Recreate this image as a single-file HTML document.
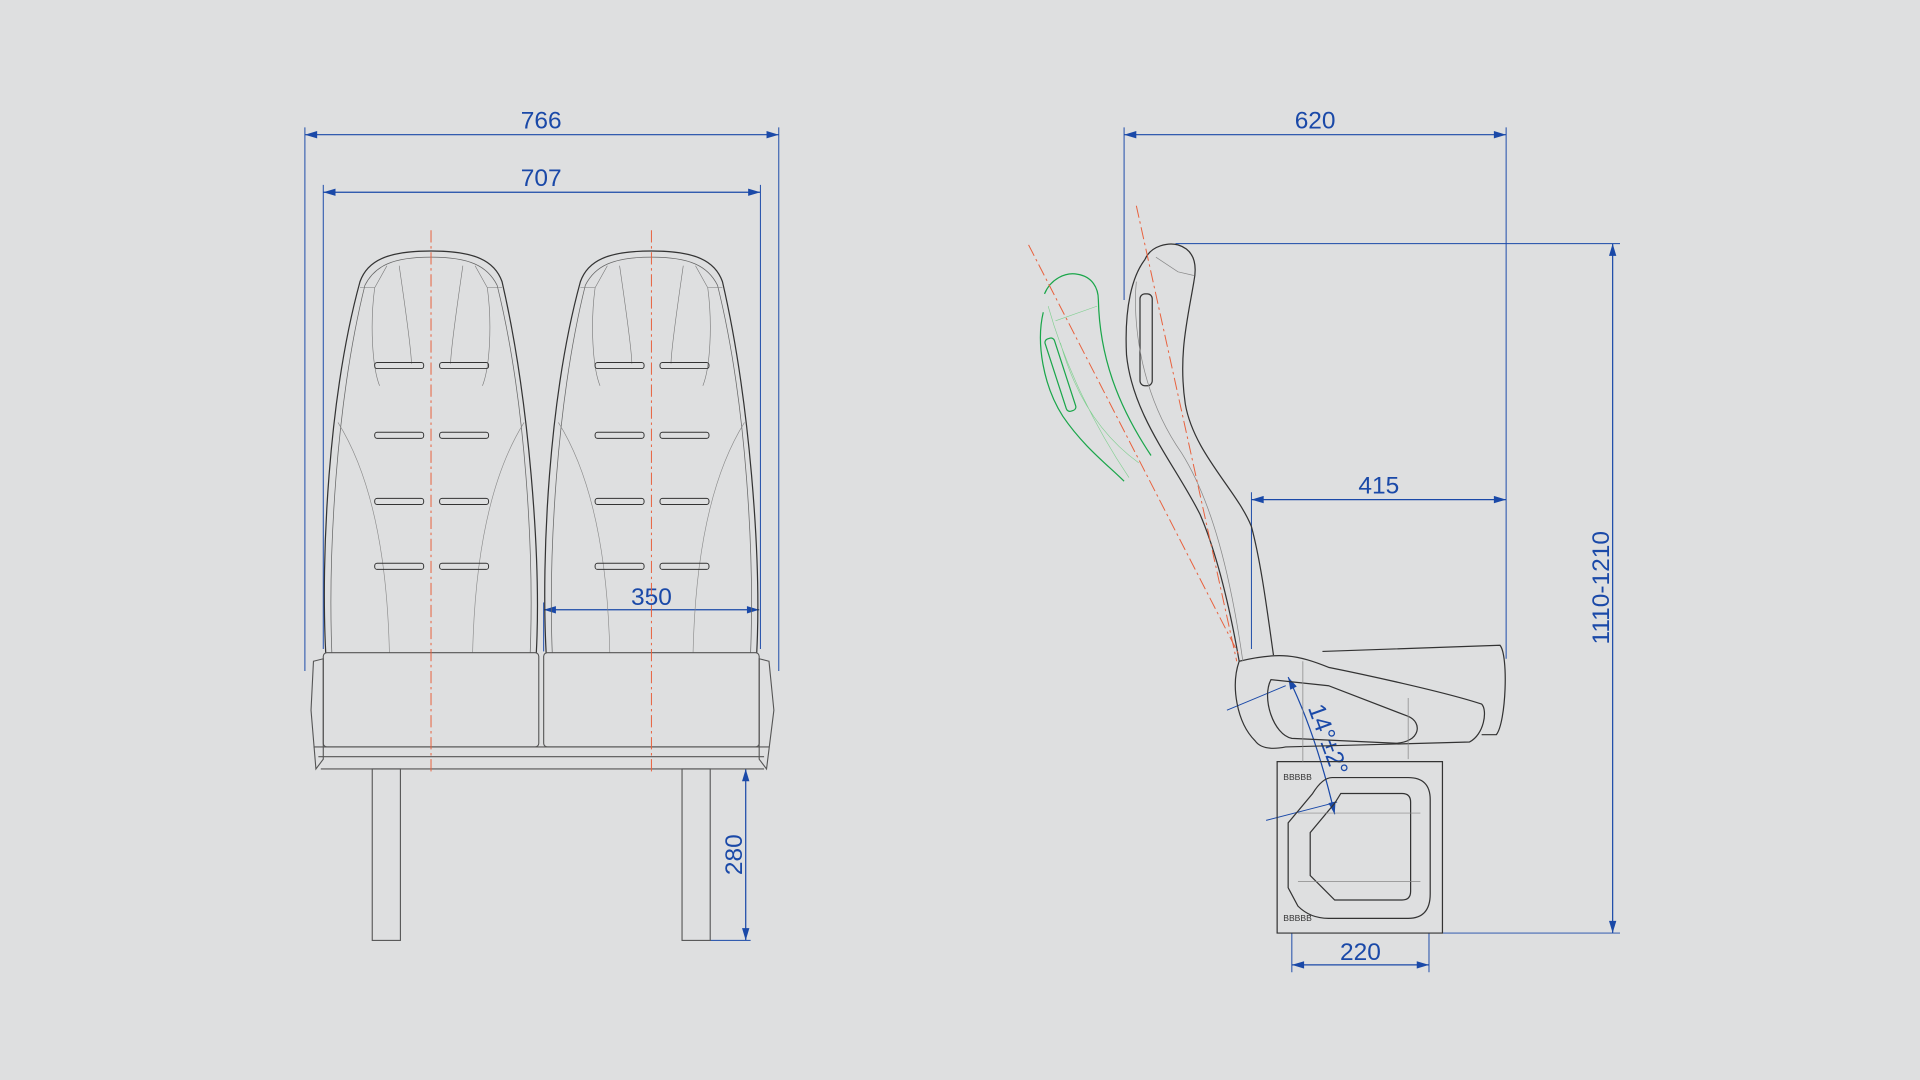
<!DOCTYPE html>
<html><head><meta charset="utf-8"><style>
html,body{margin:0;padding:0;background:#dedfe0;}
svg{display:block}
text{font-family:"Liberation Sans",sans-serif;fill:#1a49a8;font-size:20px}
</style></head><body>
<svg width="1920" height="1080" viewBox="0 0 1568 882" xmlns="http://www.w3.org/2000/svg">
<defs>
<marker id="a" viewBox="0 0 10 6" refX="10" refY="3" markerWidth="14" markerHeight="6" orient="auto-start-reverse" markerUnits="userSpaceOnUse"><path d="M0,0 L10,3 L0,6 Z" fill="#1a49a8"/></marker>
<g id="back">
<path d="M0,328 C-4,250 2,120 28,25 C34,8 50,0 86,0 C122,0 138,8 144,25 C166,120 176,250 172,328" fill="none" stroke="#333" stroke-width="1"/>
<path d="M5,328 C2,250 8,125 32,28 C40,12 55,5 86,5 C117,5 132,12 140,28 C164,125 170,250 167,328" fill="none" stroke="#666" stroke-width="0.6"/>
<path d="M40,30 C36,60 38,95 44,110 M132,30 C136,60 134,95 128,110 M60,12 C64,40 70,80 70,92 M112,12 C108,40 102,80 102,92 M28,30 L40,30 L50,12 M144,30 L132,30 L122,12" fill="none" stroke="#777" stroke-width="0.5"/>
<path d="M10,140 C35,180 50,240 52,328 M162,140 C137,180 122,240 120,328" fill="none" stroke="#888" stroke-width="0.5"/>
<g fill="none" stroke="#333" stroke-width="0.8">
<rect x="40" y="91" width="40" height="5" rx="2"/><rect x="93" y="91" width="40" height="5" rx="2"/>
<rect x="40" y="148" width="40" height="5" rx="2"/><rect x="93" y="148" width="40" height="5" rx="2"/>
<rect x="40" y="202" width="40" height="5" rx="2"/><rect x="93" y="202" width="40" height="5" rx="2"/>
<rect x="40" y="255" width="40" height="5" rx="2"/><rect x="93" y="255" width="40" height="5" rx="2"/>
</g>
</g>
</defs>

<!-- FRONT VIEW -->
<g stroke="#1a49a8" stroke-width="0.8" fill="none">
<line x1="249" y1="104" x2="249" y2="548"/><line x1="636" y1="104" x2="636" y2="548"/>
<line x1="264" y1="151" x2="264" y2="530"/><line x1="621" y1="151" x2="621" y2="530"/>
<line x1="444" y1="492" x2="444" y2="532"/>
<line x1="580" y1="768" x2="613" y2="768"/>
</g>
<g stroke="#1a49a8" stroke-width="1" fill="none" marker-start="url(#a)" marker-end="url(#a)">
<line x1="249" y1="110" x2="636" y2="110"/>
<line x1="264" y1="157" x2="621" y2="157"/>
<line x1="444" y1="498" x2="620" y2="498"/>
<line x1="609" y1="628" x2="609" y2="768"/>
</g>
<text x="442" y="105" text-anchor="middle">766</text>
<text x="442" y="152" text-anchor="middle">707</text>
<text x="532" y="494" text-anchor="middle">350</text>
<text transform="translate(606,698) rotate(-90)" text-anchor="middle">280</text>

<use href="#back" x="266" y="205"/>
<use href="#back" x="446" y="205"/>
<g fill="none" stroke="#555" stroke-width="0.9">
<rect x="264" y="533" width="176" height="77" rx="3"/>
<rect x="444" y="533" width="176" height="77" rx="3"/>
<path d="M256,610 L628,610 M260,618 L624,618 M262,628 L624,628"/>
<path d="M256,540 L264,538 L264,620 L258,628 L254,580 Z M628,540 L620,538 L620,620 L626,628 L632,580 Z"/>
<rect x="304" y="628" width="23" height="140"/>
<rect x="557" y="628" width="23" height="140"/>
</g>
<g stroke="#e8603c" stroke-width="0.8" stroke-dasharray="10,3,2,3">
<line x1="352" y1="188" x2="352" y2="630"/>
<line x1="532" y1="188" x2="532" y2="630"/>
</g>

<!-- SIDE VIEW -->
<g stroke="#1a49a8" stroke-width="0.8" fill="none">
<line x1="918" y1="104" x2="918" y2="245"/>
<line x1="1230" y1="104" x2="1230" y2="538"/>
<line x1="960" y1="199" x2="1323" y2="199"/>
<line x1="1170" y1="762" x2="1323" y2="762"/>
<line x1="1022" y1="402" x2="1022" y2="530"/>
<line x1="1055" y1="762" x2="1055" y2="794"/><line x1="1167" y1="762" x2="1167" y2="794"/>
<line x1="1002" y1="580" x2="1050" y2="560"/>
<line x1="1034" y1="670" x2="1092" y2="655"/>
</g>
<g stroke="#1a49a8" stroke-width="1" fill="none" marker-start="url(#a)" marker-end="url(#a)">
<line x1="918" y1="110" x2="1230" y2="110"/>
<line x1="1317" y1="199" x2="1317" y2="762"/>
<line x1="1022" y1="408" x2="1230" y2="408"/>
<line x1="1055" y1="788" x2="1167" y2="788"/>
<path d="M1052,553 Q1075,600 1090,665"/>
</g>
<text x="1074" y="105" text-anchor="middle">620</text>
<text x="1126" y="403" text-anchor="middle">415</text>
<text x="1111" y="784" text-anchor="middle">220</text>
<text transform="translate(1314,480) rotate(-90)" text-anchor="middle">1110-1210</text>
<text transform="translate(1068,578) rotate(70)">14°±2°</text>

<!-- backrest -->
<g fill="none" stroke="#333" stroke-width="1">
<path d="M935,212 C940,200 955,198 962,200 C975,204 978,215 975,230 C970,260 962,290 968,330 C975,370 1010,400 1022,430 C1030,460 1035,500 1040,535"/>
<path d="M935,212 C925,225 918,250 920,290 C925,340 960,380 980,420 C995,455 1005,500 1012,540"/>
<path d="M1012,540 C1005,560 1010,590 1025,605 C1030,612 1040,612 1050,610 L1200,606 C1212,600 1215,580 1210,575 C1180,565 1110,550 1085,545 C1060,535 1045,532 1012,540"/>
<path d="M1080,532 L1225,527 C1232,535 1230,590 1222,600 L1210,600"/>
<path d="M1038,555 C1030,570 1040,600 1055,603 L1140,607 C1160,606 1162,590 1150,585 L1085,560 Z"/>
<rect x="931" y="240" width="10" height="75" rx="4"/>
<path d="M1043,622 L1178,622 L1178,762 L1043,762 Z"/>
<path d="M1088,635 L1150,635 Q1168,635 1168,653 L1168,730 Q1168,750 1150,750 L1085,750 Q1070,750 1060,740 L1052,725 L1052,672 L1072,648 Q1080,635 1088,635 Z"/>
<path d="M1095,648 L1145,648 Q1152,648 1152,655 L1152,728 Q1152,735 1145,735 L1090,735 L1070,715 L1070,680 L1090,656 Z"/>
</g>
<g fill="none" stroke="#888" stroke-width="0.6">
<path d="M928,230 C925,260 930,320 965,370 C990,410 1005,470 1015,540"/>
<path d="M944,210 L962,222 L975,225"/>
<path d="M1064,622 L1064,540 M1150,620 L1150,570"/>
<path d="M1060,664 L1160,664 M1060,720 L1160,720"/>
</g>
<text x="1048" y="637" style="font-size:7px;fill:#333">BBBBB</text><text x="1048" y="752" style="font-size:7px;fill:#333">BBBBB</text>
<!-- green reclined -->
<g fill="none" stroke="#1aa64a" stroke-width="1">
<path d="M853,240 C858,228 870,222 880,224 C892,226 897,235 897,245 C898,290 912,330 940,372"/>
<path d="M852,255 C846,280 852,315 868,340 C885,365 905,380 918,393"/>
<rect x="862" y="275" width="8" height="62" rx="3" transform="rotate(-18 866 306)"/>
</g>
<g fill="none" stroke="#7fcf8f" stroke-width="0.5">
<path d="M856,250 C870,300 895,350 922,390 M862,262 L896,250 M866,280 C880,330 905,360 930,378"/>
</g>
<g stroke="#e8603c" stroke-width="0.8" stroke-dasharray="10,3,2,3">
<line x1="928" y1="168" x2="1010" y2="540"/>
<line x1="840" y1="200" x2="1012" y2="535"/>
</g>
</svg>
</body></html>
